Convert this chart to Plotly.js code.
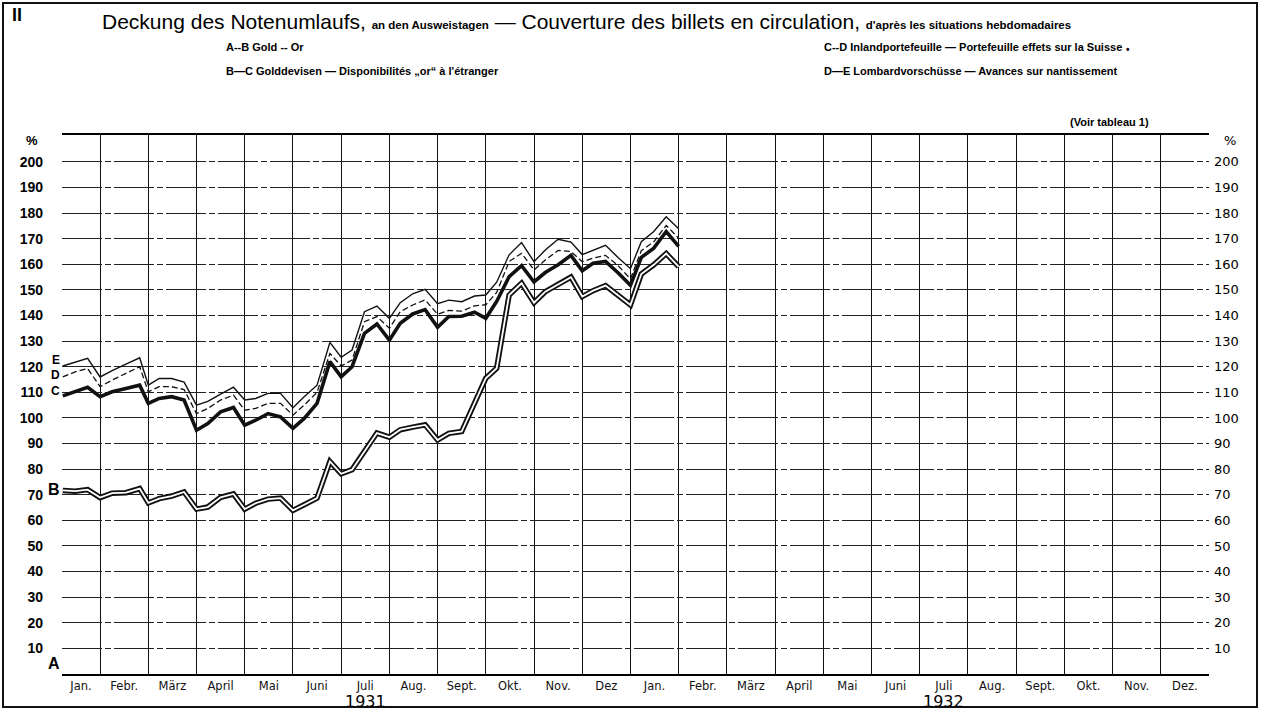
<!DOCTYPE html>
<html><head><meta charset="utf-8">
<script src="https://cdn.plot.ly/plotly-3.0.1.min.js"></script>
<style>html,body{margin:0;padding:0;background:#fff}#chart{width:1262px;height:712px}</style>
</head><body><div id="chart"></div>
<script>
// Weekly statement dates (Ausweistage), Jan 1931 – Jan 1932
const dates = [
 "1931-01-07","1931-01-15","1931-01-23","1931-01-31",
 "1931-02-07","1931-02-15","1931-02-23","1931-02-28",
 "1931-03-07","1931-03-15","1931-03-23","1931-03-31",
 "1931-04-07","1931-04-15","1931-04-23","1931-04-30",
 "1931-05-07","1931-05-15","1931-05-23","1931-05-31",
 "1931-06-07","1931-06-15","1931-06-23","1931-06-30",
 "1931-07-07","1931-07-15","1931-07-23","1931-07-31",
 "1931-08-07","1931-08-15","1931-08-23","1931-08-31",
 "1931-09-07","1931-09-15","1931-09-23","1931-09-30",
 "1931-10-07","1931-10-15","1931-10-23","1931-10-31",
 "1931-11-07","1931-11-15","1931-11-23","1931-11-30",
 "1931-12-07","1931-12-15","1931-12-23","1931-12-31",
 "1932-01-07","1932-01-15","1932-01-23","1932-01-31"
];
// B: Gold (A–B)
const lineB = [71.7,71.4,72.0,68.9, 70.6,70.8,72.4,66.8, 68.5,69.5,71.1,64.4, 65.2,69.0,70.3,64.4,
 66.7,68.3,68.7,63.9, 66.1,68.7,83.0,78.2, 79.8,87.0,94.1,92.5, 95.4,96.4,97.3,91.4,
 94.0,94.7,105.7,115.5, 119.4,148.0,152.6,145.0, 149.3,152.3,155.0,147.4, 149.7,151.7,148.0,144.1,
 156.2,159.8,164.2,159.1];
// C: + Golddevisen (B–C)
const lineC = [108.6,110.4,112.0,108.3, 110.2,111.5,112.8,105.7, 107.6,108.3,107.0,95.2, 97.8,102.4,104.1,97.2,
 99.1,101.7,100.4,95.9, 99.8,105.7,122.0,116.1, 120.0,133.0,136.7,130.4, 137.0,140.6,142.3,135.4,
 139.6,139.7,141.3,138.9, 145.5,155.2,159.5,153.1, 156.8,159.8,163.5,157.5, 160.4,161.1,156.7,151.8,
 162.7,166.3,172.8,167.0];
// D: + Inlandportefeuille (C–D)
const lineD = [116.0,118.0,119.3,112.2, 114.8,117.4,120.0,110.2, 112.2,112.2,111.1,101.7, 103.7,107.0,108.9,103.0,
 103.7,105.7,105.7,101.1, 105.0,110.0,125.2,120.3, 122.6,137.6,139.6,135.0, 141.5,144.1,146.1,140.5,
 142.0,141.7,143.8,144.2, 149.0,161.1,164.3,157.8, 161.7,165.4,165.0,161.0, 162.4,163.5,159.5,154.3,
 165.3,168.8,175.2,170.2];
// E: + Lombardvorschüsse (D–E)
const lineE = [120.3,121.8,123.3,116.0, 118.5,121.0,123.5,112.8, 115.4,115.4,114.0,105.0, 106.5,109.3,112.0,107.0,
 107.6,109.6,109.6,104.0, 108.3,112.8,129.5,123.7, 126.5,141.5,143.7,138.9, 145.0,148.5,150.2,144.6,
 146.0,145.4,147.6,148.0, 153.0,163.7,168.5,161.0, 165.6,169.8,168.7,163.8, 165.4,167.4,162.7,158.3,
 168.8,172.8,178.6,173.9];

const monthLabels = ["Jan.","Febr.","März","April","Mai","Juni","Juli","Aug.","Sept.","Okt.","Nov.","Dez",
 "Jan.","Febr.","März","April","Mai","Juni","Juli","Aug.","Sept.","Okt.","Nov.","Dez."];
const yearLabels = ["1931","1932"];
const yTicks = [10,20,30,40,50,60,70,80,90,100,110,120,130,140,150,160,170,180,190,200];

// month-based position: each calendar month gets equal width
function pos(d){
  const [y,m,day] = d.split("-").map(Number);
  const dim = new Date(y, m, 0).getDate();
  return (y-1931)*12 + (m-1) + day/dim;
}
const xs = dates.map(pos);

const X0 = 0.21, X1 = 24, Y1 = 210.5;
const W = 1262, H = 712, ML = 62, MR = 53, MT = 135, MB = 38;
const PW = W-ML-MR, PH = H-MT-MB;
const px = v => (v-ML)/PW;       // pixel -> paper x
const py = v => (H-MB-v)/PH;     // pixel -> paper y

const tickPos = monthLabels.map((_,i)=> i===0 ? (X0+1)/2 : i+0.5);

const base = {x: xs, mode:'lines', hoverinfo:'skip', showlegend:false};
const traces = [
  Object.assign({}, base, {y: lineB, line:{color:'#111', width:5.5}}),
  Object.assign({}, base, {y: lineB, line:{color:'#fff', width:1.8}}),
  Object.assign({}, base, {y: lineC, line:{color:'#111', width:3.6}}),
  Object.assign({}, base, {y: lineD, line:{color:'#111', width:1.3, dash:'6px,3px'}}),
  Object.assign({}, base, {y: lineE, line:{color:'#111', width:1.4}}),
  {x:[X0], y:[0], yaxis:'y2', mode:'markers', marker:{opacity:0}, hoverinfo:'skip', showlegend:false}
];

const F = "Liberation Sans, Arial, sans-serif";
const ann = [];
function t(text, x, y, size, opts){
  ann.push(Object.assign({text, x:px(x), y:py(y), xref:'paper', yref:'paper', showarrow:false,
    xanchor:'left', yanchor:'middle', font:{family:F, size, color:'#000'}}, opts||{}));
}
t("<b>II</b>", 10, 15, 18);
t('Deckung des Notenumlaufs, <span style="font-size:11.5px;font-weight:bold">an den Ausweistagen</span> — Couverture des billets en circulation, <span style="font-size:11.5px;font-weight:bold">d\'après les situations hebdomadaires</span>', 100, 21, 21);
t("<b>A--B Gold -- Or</b>", 224, 47, 11);
t("<b>B—C Golddevisen — Disponibilités „or“ à l'étranger</b>", 224, 71, 11);
t("<b>C--D Inlandportefeuille — Portefeuille effets sur la Suisse</b>", 822, 47, 11);
t("<b>•</b>", 1124, 49, 10);
t("<b>D—E Lombardvorschüsse — Avances sur nantissement</b>", 822, 71, 11);
t("<b>(Voir tableau 1)</b>", 1068, 122, 11);
t("<b>%</b>", 24, 140, 13);
t("%", 1222, 140, 13, {font:{family:"DejaVu Sans, sans-serif", size:13, color:'#000'}});
// boundary letters
[["E",122.6,12],["D",116.6,12],["C",110.6,12],["B",72.0,16],["A",4.0,16]].forEach(([l,v,s])=>{
  ann.push({text:"<b>"+l+"</b>", x:X0, y:v, xref:'x', yref:'y', xanchor:'right', yanchor:'middle', xshift:0,
    showarrow:false, font:{family:F, size:s, color:'#000'}});
});
ann.push({text:yearLabels[0], x:6.5, y:py(701), xref:'x', yref:'paper', showarrow:false, xanchor:'center', yanchor:'middle', font:{family:"DejaVu Sans, sans-serif", size:16, color:'#000'}});
ann.push({text:yearLabels[1], x:18.5, y:py(701), xref:'x', yref:'paper', showarrow:false, xanchor:'center', yanchor:'middle', font:{family:"DejaVu Sans, sans-serif", size:16, color:'#000'}});

const layout = {
  width:W, height:H, margin:{l:ML, r:MR, t:MT, b:MB},
  paper_bgcolor:'#fff', plot_bgcolor:'#fff',
  xaxis:{range:[X0,X1], tickmode:'array', tickvals:tickPos, ticktext:monthLabels, showgrid:false, zeroline:false,
    ticks:'', ticklabelstandoff:0, tickfont:{family:"DejaVu Sans, sans-serif", size:11.5, color:'#111'},
    showline:true, mirror:true, linecolor:'#000', linewidth:2,
    minor:{tick0:0, dtick:1, showgrid:true, gridcolor:'#111', gridwidth:1, ticks:''}},
  yaxis:{range:[0,Y1], tickmode:'array', tickvals:yTicks, showgrid:true, gridcolor:'#222', gridwidth:1,
    griddash:'40px,3px,6px,3px', zeroline:false, ticks:'', ticklabelstandoff:18,
    tickfont:{family:F, size:14, color:'#000', weight:'bold'}},
  yaxis2:{range:[0,Y1], overlaying:'y', side:'right', tickmode:'array', tickvals:yTicks, showgrid:false, zeroline:false,
    ticks:'', ticklabelstandoff:4, tickfont:{family:"DejaVu Sans, sans-serif", size:13, color:'#000'}},
  annotations: ann,
  shapes:[{type:'rect', xref:'paper', yref:'paper', x0:px(3), x1:px(1257), y0:py(707), y1:py(3), line:{color:'#111', width:2}}]
};
Plotly.newPlot('chart', traces, layout, {staticPlot:true, displayModeBar:false});
</script></body></html>
